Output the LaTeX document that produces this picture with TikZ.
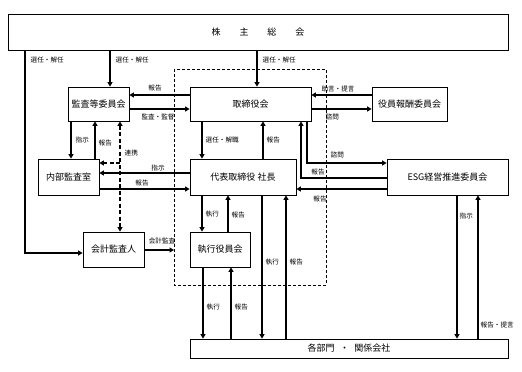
\documentclass[tikz,border=0pt]{standalone}
\usepackage{fontspec}
\setmainfont{Noto Sans CJK JP}
\usetikzlibrary{arrows.meta}
\begin{document}
\begin{tikzpicture}[x=1pt,y=-1pt,
  box/.style={draw,line width=0.8pt,inner sep=0pt,font=\fontsize{9}{10}\selectfont},
  arr/.style={line width=1.5pt,-{Triangle[length=4.5pt,width=5pt]}},
  darr/.style={line width=1.5pt,dash pattern=on 4pt off 2.5pt,{Triangle[length=4.5pt,width=5pt]}-{Triangle[length=4.5pt,width=5pt]}},
  darr1/.style={line width=1.5pt,dash pattern=on 4pt off 2.5pt,-{Triangle[length=4.5pt,width=5pt]}},
  lab/.style={inner sep=0.5pt,font=\fontsize{6.6}{7}\selectfont}]
\useasboundingbox (0,0) rectangle (522,372);
\fill[white] (0,0) rectangle (522,372);
% boxes
\node[box,minimum width=500pt,minimum height=36pt] (gm) at (258,32.5) {株\hspace{2.1em}主\hspace{2.1em}総\hspace{2.1em}会};
\node[box,minimum width=61pt,minimum height=34pt] (kansa) at (98.5,104) {監査等委員会};
\node[box,minimum width=121pt,minimum height=34pt] (board) at (250.5,104) {取締役会};
\node[box,minimum width=75pt,minimum height=34pt] (comp) at (409.5,104) {役員報酬委員会};
\node[box,minimum width=61pt,minimum height=36pt] (naibu) at (68.5,177) {内部監査室};
\node[box,minimum width=106pt,minimum height=36pt] (ceo) at (243,177) {代表取締役 社長};
\node[box,minimum width=121pt,minimum height=36pt] (esg) at (447.5,177) {ESG経営推進委員会};
\node[box,minimum width=61pt,minimum height=35pt] (kaikei) at (113.5,249.5) {会計監査人};
\node[box,minimum width=60pt,minimum height=35pt] (exec) at (220,249.5) {執行役員会};
\node[box,minimum width=318pt,minimum height=19pt] (dept) at (349,348.5) {各部門\hspace{0.6em}・\hspace{0.6em}関係会社};
% dashed group
\draw[line width=0.8pt,dash pattern=on 3pt off 2pt] (174,69) rectangle (326,285);
\coordinate (dl) at (174,250);
% shareholders
\draw[arr] (gm.south -| 25,0) -- (25,253) -- (kaikei.west |- 0,253);
\node[lab,anchor=west] at (30,60) {選任・解任};
\draw[arr] (gm.south -| 110,0) -- (kansa.north -| 110,0);
\node[lab,anchor=west] at (115,60) {選任・解任};
\draw[arr] (gm.south -| 257,0) -- (board.north -| 257,0);
\node[lab,anchor=west] at (262,60) {選任・解任};
% kansa <-> board
\draw[arr] (board.west |- 0,95) -- (kansa.east |- 0,95);
\node[lab] at (155,88.5) {報告};
\draw[arr] (kansa.east |- 0,109) -- (board.west |- 0,109);
\node[lab] at (158,117) {監査・監督};
% comp <-> board
\draw[arr] (comp.west |- 0,95) -- (board.east |- 0,95);
\node[lab] at (338,88.5) {助言・提言};
\draw[arr] (board.east |- 0,109) -- (comp.west |- 0,109);
\node[lab,anchor=west] at (325,117) {諮問};
% kansa <-> naibu
\draw[arr] (kansa.south -| 71,0) -- (naibu.north -| 71,0);
\node[lab,anchor=west] at (75,140) {指示};
\draw[arr] (naibu.north -| 95,0) -- (kansa.south -| 95,0);
\node[lab,anchor=west] at (98,143) {報告};
% renkei
\draw[darr] (kansa.south -| 120,0) -- (kaikei.north -| 120,0);
\draw[darr1] (120,163) -- (naibu.east |- 0,163);
\node[lab,anchor=west] at (124,153) {連携};
% ceo <-> naibu
\draw[arr] (ceo.west |- 0,173) -- (naibu.east |- 0,173);
\node[lab] at (158,168) {指示};
\draw[arr] (naibu.east |- 0,189) -- (ceo.west |- 0,189);
\node[lab] at (142,183.5) {報告};
% board <-> ceo
\draw[arr] (board.south -| 202,0) -- (ceo.north -| 202,0);
\node[lab,anchor=west] at (205,140) {選任・解職};
\draw[arr] (ceo.north -| 263,0) -- (board.south -| 263,0);
\node[lab,anchor=west] at (266,140) {報告};
% esg <-> board / ceo
\draw[arr] (esg.west |- 0,178) -- (301,178) -- (board.south -| 301,0);
\node[lab] at (318,172) {報告};
\draw[arr] (board.south -| 307,0) -- (307,163) -- (esg.west |- 0,163);
\node[lab,anchor=west] at (330,155) {諮問};
\draw[arr] (esg.west |- 0,189) -- (ceo.east |- 0,189);
\node[lab] at (320,199) {報告};
% ceo <-> exec
\draw[arr] (ceo.south -| 202,0) -- (exec.north -| 202,0);
\node[lab,anchor=west] at (205,214) {執行};
\draw[arr] (exec.north -| 228,0) -- (ceo.south -| 228,0);
\node[lab,anchor=west] at (231,215) {報告};
% kaikei -> group
\draw[arr] (kaikei.east |- 0,250) -- (dl);
\node[lab] at (162,240.5) {会計監査};
% exec <-> dept
\draw[arr] (exec.south -| 203,0) -- (dept.north -| 203,0);
\node[lab,anchor=west] at (206,307) {執行};
\draw[arr] (dept.north -| 231,0) -- (exec.south -| 231,0);
\node[lab,anchor=west] at (234,307) {報告};
% ceo <-> dept
\draw[arr] (ceo.south -| 262,0) -- (dept.north -| 262,0);
\node[lab,anchor=west] at (265,262) {執行};
\draw[arr] (dept.north -| 286,0) -- (ceo.south -| 286,0);
\node[lab,anchor=west] at (289,262) {報告};
% esg <-> dept
\draw[arr] (esg.south -| 457,0) -- (dept.north -| 457,0);
\node[lab,anchor=west] at (459,216) {指示};
\draw[arr] (dept.north -| 478,0) -- (esg.south -| 478,0);
\node[lab,anchor=west] at (480,325) {報告・提言};
\end{tikzpicture}
\end{document}
